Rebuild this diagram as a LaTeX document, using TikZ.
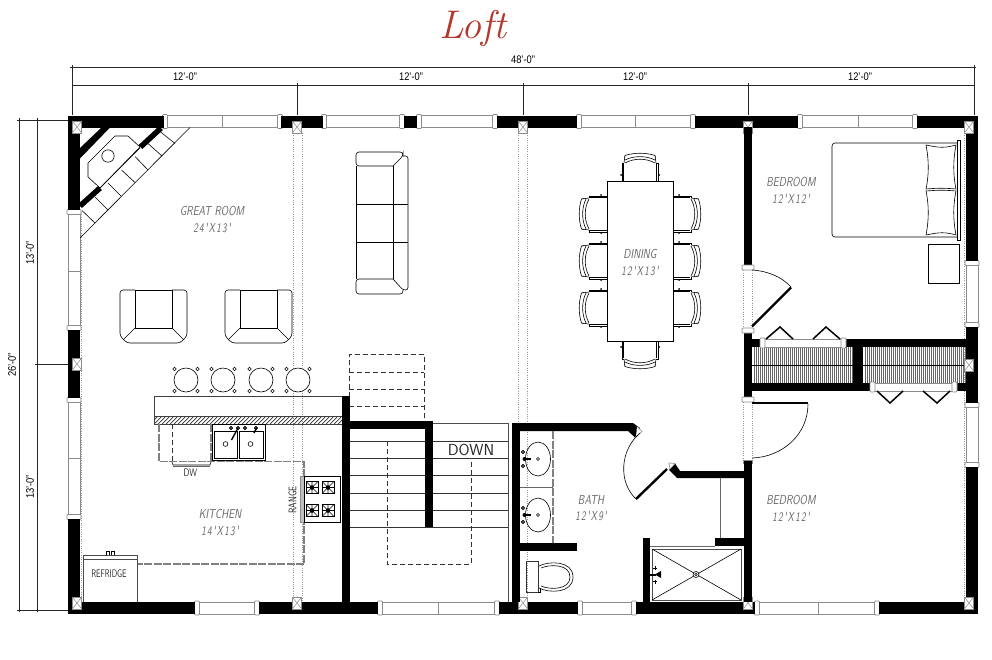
\documentclass[tikz,border=0pt]{standalone}
\usepackage{fontspec}
\setsansfont{Liberation Sans}
\newfontfamily\roomfont{Latin Modern Sans}
\newfontfamily\sizefont[LetterSpace=14]{Latin Modern Sans}
\newfontfamily\plainlm{Latin Modern Sans}
\definecolor{titlered}{HTML}{B23A2C}
\definecolor{wingray}{gray}{0.55}
\definecolor{dotgray}{gray}{0.6}
\definecolor{cntgray}{gray}{0.5}
\tikzset{
  wallfill/.style={fill=black,draw=none},
  thinline/.style={draw=black,line width=0.6pt},
  winline/.style={draw=wingray,line width=0.7pt},
  dotline/.style={draw=dotgray,line width=0.5pt,dash pattern=on 1pt off 1.3pt},
  dashline/.style={draw=black!80,line width=0.6pt,dash pattern=on 5pt off 3pt},
  cntline/.style={draw=cntgray,line width=1.3pt,dash pattern=on 8pt off 1.5pt},
  dimline/.style={draw=black!85,line width=0.5pt},
  roomlabel/.style={text=black!60,font=\roomfont\itshape\fontsize{13}{14}\selectfont,inner sep=0pt},
  sizelabel/.style={text=black!60,font=\sizefont\itshape\fontsize{13}{14}\selectfont,inner sep=0pt},
  dimlabel/.style={text=black,font=\sffamily\fontsize{11}{12}\selectfont,inner sep=0pt},
  fixlabel/.style={text=black!85,font=\plainlm\fontsize{11}{12}\selectfont,inner sep=0pt},
  colbox/.style={draw=wingray,fill=white,line width=0.6pt},
  jambbox/.style={draw=wingray,fill=white,line width=0.7pt,rounded corners=0.8pt},
  leaf/.style={draw=black,line width=2.4pt},
  bifold/.style={draw=black,line width=1.5pt}
}
\newcommand{\Narrow}[1]{\scalebox{0.72}[1]{#1}}
\newcommand{\NarrowW}[1]{\scalebox{0.78}[1]{#1}}
\newcommand{\WinH}[4]{% x1 x2 y1 y2: horizontal window
  \draw[winline,fill=white] (#1,#3) rectangle (#2,#4);
  \draw[jambbox] (#1-2.5,#3-1) rectangle (#1+2.5,#4+1);
  \draw[jambbox] (#2-2.5,#3-1) rectangle (#2+2.5,#4+1);
}
\newcommand{\WinV}[4]{% y1 y2 x1 x2: vertical window
  \draw[winline,fill=white] (#3,#1) rectangle (#4,#2);
  \draw[jambbox] (#3-1,#1-2.5) rectangle (#4+1,#1+2.5);
  \draw[jambbox] (#3-1,#2-2.5) rectangle (#4+1,#2+2.5);
}
\newcommand{\Column}[2]{%
  \draw[colbox] (#1-4.7,#2-6) rectangle (#1+4.7,#2+6);
  \draw[draw=wingray,line width=0.5pt] (#1-4.7,#2-6) -- (#1+4.7,#2+6) (#1+4.7,#2-6) -- (#1-4.7,#2+6);
}
\newcommand{\ArmChair}[1]{%
 \begin{scope}[xshift=#1pt]
  \draw[thinline,rounded corners=3pt] (135,290) -- (120,290) -- (120,336) -- (127,343) -- (180,343) -- (187,336) -- (187,290) -- (172,290);
  \draw[thinline] (135,290) -- (172,290);
  \draw[thinline] (135,290) -- (135,328) -- (172,328) -- (172,290);
  \draw[thinline] (135,328) -- (123,340) (172,328) -- (184,340);
 \end{scope}
}
\newcommand{\Stool}[1]{%
  \foreach \dx/\dy in {-1/-1,1/-1,-1/1,1/1}{
    \draw[thinline,fill=white] (#1+\dx*11.5,380+\dy*11) ++(-1.7,0) -- ++(1.7,-1.7) -- ++(1.7,1.7) -- ++(-1.7,1.7) -- cycle;
  }
  \draw[thinline,fill=white] (#1,380) circle (12);
}
\newcommand{\Chair}[3]{% x y rotation; back points to local -x
 \begin{scope}[shift={(#1,#2)},rotate=#3]
  \draw[thinline] (0,-18) -- (-18,-18) -- (-18,-16);
  \draw[thinline] (0,18) -- (-18,18) -- (-18,16);
  \draw[thinline] (0,-16.5) -- (-17,-16.5) (0,16.5) -- (-17,16.5);
  \draw[thinline] (-18,-15) .. controls (-23,-6) and (-23,6) .. (-18,15);
  \draw[thinline] (-21,-15) .. controls (-25.5,-6) and (-25.5,6) .. (-21,15);
  \draw[thinline] (-18,-16) -- (-25.5,-15) .. controls (-28.5,-6) and (-28.5,6) .. (-25.5,15) -- (-18,16);
  \fill (-6,-19) circle (1) (-6,19) circle (1);
  \fill (-24,-15.5) circle (0.7) (-24,15.5) circle (0.7);
 \end{scope}
}
\newcommand{\Bed}[1]{%
 \begin{scope}[yshift=#1pt]
  \draw[thinline,rounded corners=3pt] (957,143) -- (832,143) -- (832,237) -- (957,237);
  \draw[thinline,fill=white] (957,140) rectangle (960,240);
  \draw[thinline,fill=white] (926,145) .. controls (940,148) and (945,148) .. (956,145) .. controls (953,160) and (953,175) .. (956,189) .. controls (945,188) and (938,188) .. (926,189) .. controls (929,175) and (929,160) .. (926,145) -- cycle;
  \draw[thinline,fill=white] (926,191) .. controls (938,190) and (945,190) .. (956,191) .. controls (953,205) and (953,220) .. (956,235) .. controls (945,232) and (940,232) .. (926,235) .. controls (929,220) and (929,205) .. (926,191) -- cycle;
  \draw[thinline] (928,244) rectangle (959,283);
 \end{scope}
}
\newcommand{\Burner}[2]{%
  \draw[thinline] (#1-6,#2-6) rectangle (#1+6,#2+6);
  \draw[thinline] (#1-6,#2-6) -- (#1+6,#2+6) (#1+6,#2-6) -- (#1-6,#2+6) (#1,#2-6) -- (#1,#2+6) (#1-6,#2) -- (#1+6,#2);
  \fill (#1,#2) circle (2.3);
}
\newcommand{\Basin}[1]{%
  \draw[thinline] (538,#1) ellipse (12.5 and 17);
  \draw[thinline] (538,#1) circle (1.5);
  \fill (523,#1-1.2) rectangle (531,#1+1.2);
  \fill (524.5,#1) circle (2);
  \foreach \d in {-7,7}{\draw[thinline,fill=black!60] (523,#1+\d) circle (1.8);}
}
\begin{document}
\begin{tikzpicture}[x=1pt,y=-1pt]
\useasboundingbox (0,0) rectangle (992,659);
\fill[white] (0,0) rectangle (992,659);

% title
\node[text=titlered,font=\rmfamily\itshape\fontsize{40}{40}\selectfont,inner sep=0pt] (title) at (473,28) {Loft};

% dimension lines
\draw[dimline] (72,67) -- (974,67);
\draw[dimline] (72,85) -- (974,85);
\draw[dimline] (72,67) -- (72,115) (974,67) -- (974,115);
\draw[dimline] (297,85) -- (297,115) (523,85) -- (523,115) (748,85) -- (748,115);
\foreach \x in {72,974}{\draw[dimline] (\x-2,67) -- (\x+2,67) (\x,65) -- (\x,69);}
\foreach \x in {72,297,523,748,974}{\draw[dimline] (\x,83) -- (\x,87);}
\draw[dimline] (19,120) -- (19,610) (37,120) -- (37,610);
\draw[dimline] (17,120) -- (68,120) (35,364) -- (68,364) (17,610) -- (68,610);
\foreach \y in {120,610}{\draw[dimline] (19,\y-2) -- (19,\y+2) (37,\y-2) -- (37,\y+2);}
\draw[dimline] (37,362) -- (37,366);
\node[dimlabel] (d48) at (523,60) {\scalebox{0.85}[1]{48'-0"}};
\node[dimlabel] (d1) at (185,77) {\scalebox{0.85}[1]{12'-0"}};
\node[dimlabel] (d2) at (411,77) {\scalebox{0.85}[1]{12'-0"}};
\node[dimlabel] (d3) at (635,77) {\scalebox{0.85}[1]{12'-0"}};
\node[dimlabel] (d4) at (860,77) {\scalebox{0.85}[1]{12'-0"}};
\node[dimlabel,rotate=90] (v1) at (30,253) {\scalebox{0.85}[1]{13'-0"}};
\node[dimlabel,rotate=90] (v2) at (12,365) {\scalebox{0.85}[1]{26'-0"}};
\node[dimlabel,rotate=90] (v3) at (30,487) {\scalebox{0.85}[1]{13'-0"}};

% dotted beam lines
\foreach \x in {293,302,518,527}{\draw[dotline] (\x,133) -- (\x,602);}
\draw[dotline] (81.5,212) -- (81.5,602);
\draw[dotline] (964.5,133) -- (964.5,602);
\draw[dotline] (743,268) -- (743,330) (743,400) -- (743,460);
\draw[dotline] (752.5,268) -- (752.5,330) (752.5,400) -- (752.5,460);

% windows, top
\WinH{165}{280}{115.5}{127.5} \draw[winline] (222,115.5) -- (222,127.5);
\WinH{324}{402}{115.5}{127.5}
\WinH{419}{495}{115.5}{127.5}
\WinH{579}{693}{115.5}{127.5} \draw[winline] (635,115.5) -- (635,127.5);
\WinH{800}{915}{115.5}{127.5} \draw[winline] (858,115.5) -- (858,127.5);
% windows, bottom
\WinH{197}{257}{602}{614}
\WinH{380}{497}{602}{614} \draw[winline] (438,602) -- (438,614);
\WinH{580}{634}{602}{614}
\WinH{757}{877}{602}{614} \draw[winline] (818,602) -- (818,614);
% windows, left and right
\WinV{212}{328}{68}{80} \draw[winline] (68,271) -- (80,271);
\WinV{400}{517}{68}{80} \draw[winline] (68,458) -- (80,458);
\WinV{263}{325}{966}{978}
\WinV{405}{465}{966}{978}

% outer walls
\fill[wallfill] (68,115.5) rectangle (164,127.5);
\fill[wallfill] (281,115.5) rectangle (323,127.5);
\fill[wallfill] (404,115.5) rectangle (417,127.5);
\fill[wallfill] (497,115.5) rectangle (577,127.5);
\fill[wallfill] (695,115.5) rectangle (798,127.5);
\fill[wallfill] (917,115.5) rectangle (978,127.5);
\fill[wallfill] (68,602) rectangle (195,614);
\fill[wallfill] (259,602) rectangle (378,614);
\fill[wallfill] (499,602) rectangle (578,614);
\fill[wallfill] (636,602) rectangle (755,614);
\fill[wallfill] (879,602) rectangle (978,614);
\fill[wallfill] (68,115.5) rectangle (80,210);
\fill[wallfill] (68,330) rectangle (80,398);
\fill[wallfill] (68,519) rectangle (80,614);
\fill[wallfill] (966,115.5) rectangle (978,261);
\fill[wallfill] (966,327) rectangle (978,403);
\fill[wallfill] (966,467) rectangle (978,614);

% fireplace corner
\fill[wallfill] (102,127) -- (110.5,127) -- (80,158.5) -- (80,148) -- cycle;
\draw[thinline] (190,127.5) -- (80,238);
\draw[thinline] (140,148) -- (100,188);
\foreach \a/\b/\c/\d in {160/131.5/175/143.5,148/143.5/162/156,135/156.5/148/170,121.5/170/135/182.5,108/183/121.5/196.5,95/197/108/210,82/210.5/95/223}{
  \draw[thinline] (\a,\b) -- (\c,\d);
}
\draw[line width=5.5pt] (161,128) -- (140.5,147);
\draw[line width=5.5pt] (100,188) -- (80,206);
\draw[thinline] (115,136) -- (128,136) -- (140,147) -- (100,188) -- (88,177) -- (88,163) -- cycle;
\draw[thinline] (108,156) circle (6.2);

% columns
\Column{77}{127} \Column{297}{127} \Column{523}{127} \Column{748}{127} \Column{969}{127}
\Column{77}{364} \Column{969}{365}
\Column{77}{603} \Column{297}{603} \Column{523}{603} \Column{748}{603} \Column{969}{603}

% armchairs and sofa
\ArmChair{0} \ArmChair{105}
\draw[thinline,rounded corners=3pt] (393,166) -- (356,166) -- (356,152) -- (403,152) -- (403,156) -- (393,166);
\draw[thinline,rounded corners=2.5pt] (403,156) -- (408,156) -- (408,290) -- (403,290) -- (393,279);
\draw[thinline,rounded corners=3pt] (393,279) -- (356,279) -- (356,294) -- (403,294) -- (403,290);
\draw[thinline] (393,166) -- (393,279);
\draw[thinline] (356,166) -- (356,279);
\draw[thinline] (356,204) -- (408,204) (356,242) -- (408,242);
% stools
\Stool{186} \Stool{223} \Stool{261} \Stool{298}

% counter
\draw[draw=black!75,line width=0.9pt] (154.5,396) rectangle (345,424);
\begin{scope}
  \clip (155,416) rectangle (345,424);
  \foreach \x in {150,154,...,350}{\draw[black!80,line width=0.7pt] (\x,424) -- (\x+8,416);}
\end{scope}
\draw[draw=black!75,line width=0.7pt] (155,416) -- (345,416);

% kitchen counters
\draw[cntline] (159,424) -- (159,461.5) -- (304,461.5) -- (304,564) -- (138,564);
\draw[dashline] (172,424) -- (172,461);
\draw[cntline] (211,424) -- (211,461);
\draw[thinline] (172,462) -- (173,465) -- (210,465) -- (211,462);
\draw[thinline,draw=black!60] (173,466.5) -- (210,466.5);
\node[fixlabel] (dw) at (190.5,473) {\scalebox{.75}[1]{DW}};
% sink
\draw[thinline,fill=white] (212,424) rectangle (265,460);
\draw[thinline] (214,431) rectangle (237.5,458) (239,431) rectangle (263,458);
\draw[thinline] (225.5,444) circle (2.4) (250.5,444) circle (2.4);
\foreach \x in {231,238,245,256}{\draw[black,line width=0.6pt,fill=black!70] (\x,428) circle (1.8);}
\draw[line width=1.4pt] (231.5,440) -- (238,428);
\draw[line width=1.4pt] (254,433) -- (256.5,428);
% range
\draw[draw=wingray,fill=black!25,line width=0.6pt] (300,476) rectangle (304,522.5);
\draw[thinline,fill=white] (304,476) rectangle (340,522.5);
\Burner{312}{487.5} \Burner{328}{487.5} \Burner{312}{510.5} \Burner{328}{510.5}
\node[fixlabel,rotate=90] (range) at (292.5,500) {\scalebox{.75}[1]{RANGE}};
% fridge
\draw[draw=black!70,line width=0.7pt] (83,602) -- (83,555) -- (137,555) -- (137,602);
\draw[draw=black!70,line width=0.7pt] (83,559) -- (137,559);
\draw[thinline] (106,555) -- (106,551.5) -- (109,551.5) -- (109,555) (111,555) -- (111,551.5) -- (114,551.5) -- (114,555);
\node[fixlabel] (fridge) at (109,574) {\scalebox{.68}[1]{REFRIDGE}};

% stairs
\foreach \y in {441,458,475,493,510,527}{\draw[draw=black!80,line width=0.6pt] (349,\y) -- (508,\y);}
\draw[draw=black!70,line width=0.7pt] (433,423.5) -- (508,423.5) -- (508,602);
\draw[dashline] (349,421) -- (349,354.5) -- (424,354.5) -- (424,421);
\draw[dashline] (349,372) -- (424,372) (349,389) -- (424,389) (349,406) -- (424,406);
\draw[dashline] (387,441) -- (387,564) -- (471,564) -- (471,458);
\fill[wallfill] (342,396) rectangle (349.5,602);
\fill[wallfill] (342,421) rectangle (433,428.5);
\fill[wallfill] (425,421) rectangle (433,527);
\node[text=black!85,font=\plainlm\fontsize{16}{18}\selectfont,inner sep=0pt] (down) at (471,449.5) {DOWN};

% bath
\fill[wallfill] (512,423) rectangle (520,602);
\fill[wallfill] (512,423) -- (633,423) -- (640,428) -- (635,437.5) -- (628,431) -- (512,431) -- cycle;
\draw[colbox] (636,437) -- (642,431.5) -- (637,426.5);
\fill[wallfill] (520,543) rectangle (577,551);
\draw[cntline] (553,431) -- (553,543);
\draw[draw=black!60,line width=0.6pt] (520,487) -- (553,487);
\Basin{459} \Basin{515}
\draw[draw=black!80,line width=0.6pt] (526,561) rectangle (538,592);
\draw[thinline,fill=white] (539,566) .. controls (548,561) and (573,560) .. (573,577) .. controls (573,594) and (548,593) .. (539,588);
\draw[thinline] (541,568) .. controls (550,564) and (570,564) .. (570,577) .. controls (570,590) and (550,590) .. (541,586);
\draw[thinline] (538,592) -- (540,592) -- (540,588);
% bath door
\draw[leaf] (636,499) -- (667,469);
\draw[thinline] (636,499) .. controls (618,482) and (620,450) .. (640,433);
\fill[wallfill] (680,471) -- (748,471) -- (748,478) -- (677,478) -- (669,470) -- (675,463.5) -- cycle;
\draw[colbox] (670,469) -- (675,463.5) -- (669,463) -- cycle;
% bedroom partition walls
\fill[wallfill] (744,127) rectangle (752,268);
\fill[wallfill] (744,330) rectangle (752,400);
\fill[wallfill] (744,460) rectangle (752,602);
\draw[jambbox] (742,265) rectangle (754,270);
\draw[jambbox] (742,328) rectangle (754,333);
\draw[jambbox] (742,397) rectangle (754,402);
\draw[draw=wingray,line width=0.7pt] (743,460) -- (743,464) (752.5,460) -- (752.5,464) (743,460) -- (752.5,460);
\draw[draw=black!60,line width=0.7pt] (720,478) -- (720,538);
% shower
\fill[wallfill] (643,538) rectangle (649.5,602);
\fill[wallfill] (715,538) rectangle (744,546);
\draw[draw=black!60,line width=0.7pt] (649.5,546) -- (715,546);
\draw[draw=black!70,line width=0.8pt] (652,549) rectangle (741,600);
\draw[thinline] (652,549) -- (741,600) (652,600) -- (741,549);
\draw[thinline,fill=white] (696,574.5) circle (3);
\draw[thinline] (696,574.5) circle (1.3);
\fill (650,573.5) rectangle (656,575.5);
\fill (655,574.5) -- (661,571) -- (661,578) -- cycle;
\draw[thinline] (655,566) -- (655,570) (653,568) -- (657,568) (655,580) -- (655,584) (653,581) -- (657,581);

% closets
\foreach \x in {754,756,...,852}{\draw[draw=black!60,line width=0.5pt] (\x,347) -- (\x,383);}
\foreach \x in {865,867,...,965}{\draw[draw=black!60,line width=0.5pt] (\x,347) -- (\x,383);}
\draw[line width=0.7pt] (752,365) -- (853,365) (863,365) -- (966,365);
\fill[wallfill] (752,339) rectangle (762,347);
\fill[wallfill] (845,339) rectangle (966,347);
\draw[draw=wingray,line width=0.6pt] (762,339) -- (845,339) (762,347) -- (845,347);
\draw[jambbox] (760,338) rectangle (765,348);
\draw[jambbox] (841,338) rectangle (846,348);
\fill[wallfill] (853,347) rectangle (863,391);
\fill[wallfill] (752,383) rectangle (872,391);
\fill[wallfill] (955,383) rectangle (966,391);
\draw[draw=wingray,line width=0.6pt] (873,383) -- (955,383) (873,391) -- (955,391);
\draw[jambbox] (870,382) rectangle (875,392);
\draw[jambbox] (952,382) rectangle (957,392);
\draw[bifold] (766,339) -- (780,327) -- (793,339);
\draw[bifold] (813,339) -- (826,327) -- (840,339);
\draw[bifold] (877,391) -- (890,403) -- (903,391);
\draw[bifold] (923,391) -- (937,403) -- (950,391);
\Column{969}{365}
% bedroom doors
\draw[leaf] (752,326.5) -- (791,287.5);
\draw[thinline] (752,270) .. controls (768,271) and (782,277) .. (791,287);
\draw[leaf] (752,403) -- (808,403);
\draw[thinline] (808,404) .. controls (808,434) and (783,457) .. (752,458);
\Bed{0} \Bed{318}

% dining
\Chair{607}{214}{0} \Chair{607}{261}{0} \Chair{607}{308}{0}
\Chair{673}{214}{180} \Chair{673}{261}{180} \Chair{673}{308}{180}
\Chair{640}{181}{270} \Chair{640}{341}{90}
\draw[thinline,fill=white] (607,181) rectangle (673,341);

% room labels
\node[roomlabel] (gr1) at (212,211) {\NarrowW{GREAT ROOM}};
\node[sizelabel] (gr2) at (212,228) {\Narrow{24'X13'}};
\node[roomlabel] (k1) at (220,514) {\NarrowW{KITCHEN}};
\node[sizelabel] (k2) at (220,530.5) {\Narrow{14'X13'}};
\node[roomlabel] (di1) at (640,254) {\NarrowW{DINING}};
\node[sizelabel] (di2) at (640,271) {\Narrow{12'X13'}};
\node[roomlabel] (ba1) at (591,500) {\NarrowW{BATH}};
\node[sizelabel] (ba2) at (591,516) {\Narrow{12'X9'}};
\node[roomlabel] (b1a) at (791,182) {\NarrowW{BEDROOM}};
\node[sizelabel] (b1b) at (791,199) {\Narrow{12'X12'}};
\node[roomlabel] (b2a) at (791,500) {\NarrowW{BEDROOM}};
\node[sizelabel] (b2b) at (791,517) {\Narrow{12'X12'}};
\end{tikzpicture}
\end{document}
